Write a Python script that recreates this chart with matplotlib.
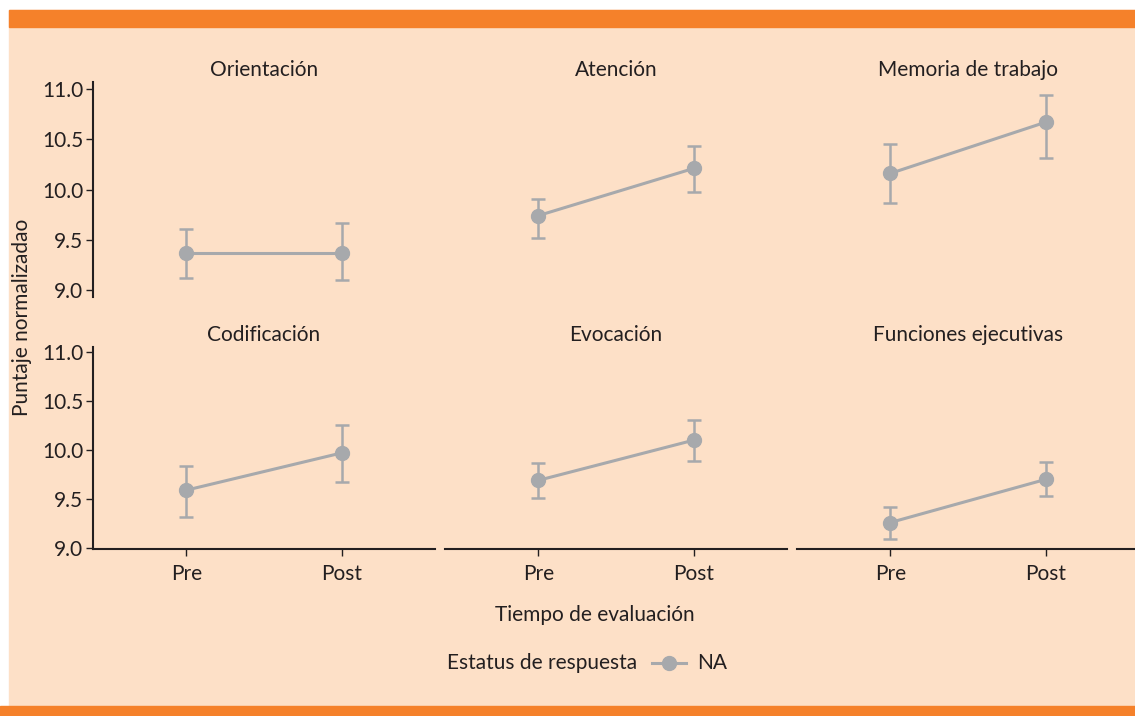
import matplotlib.pyplot as plt
from matplotlib.lines import Line2D
from matplotlib.patches import Rectangle

plt.rcParams["font.family"] = ["Lato", "DejaVu Sans"]

GRAY = "#A7A9AC"
TEXT = "#231F20"
PEACH = "#FDE0C7"
ORANGE = "#F5812A"
FS = 15

times = ["Pre", "Post"]
domains = ["Orientación", "Atención", "Memoria de trabajo",
           "Codificación", "Evocación", "Funciones ejecutivas"]
means = [[9.37, 9.37], [9.74, 10.21], [10.16, 10.67],
         [9.59, 9.97], [9.69, 10.10], [9.26, 9.70]]
lower = [[9.12, 9.10], [9.52, 9.98], [9.87, 10.31],
         [9.32, 9.67], [9.51, 9.89], [9.09, 9.53]]
upper = [[9.61, 9.67], [9.91, 10.43], [10.45, 10.94],
         [9.84, 10.25], [9.87, 10.31], [9.42, 9.88]]
yticks = [9.0, 9.5, 10.0, 10.5, 11.0]

fig = plt.figure(figsize=(11.35, 7.16), dpi=100)
# marco: fondo durazno y franjas naranjas
fig.patches.append(Rectangle((9 / 1135, 10 / 716), 1, 1 - 20 / 716,
                             transform=fig.transFigure, color=PEACH, zorder=-10))
fig.patches.append(Rectangle((9 / 1135, 1 - 27 / 716), 1, 17 / 716,
                             transform=fig.transFigure, color=ORANGE, zorder=-9))
fig.patches.append(Rectangle((0, 0), 1, 10 / 716,
                             transform=fig.transFigure, color=ORANGE, zorder=-9))

lefts = [93, 445, 797]
width = 342
rows = [(82, 297, (8.93, 11.07)), (347, 549, (8.99, 11.05))]

for i, name in enumerate(domains):
    r, c = divmod(i, 3)
    top, bot, ylim = rows[r]
    ax = fig.add_axes([lefts[c] / 1135, 1 - bot / 716, width / 1135, (bot - top) / 716])
    ax.set_facecolor("none")
    x = [1, 2]
    yerr = [[m - lo for m, lo in zip(means[i], lower[i])],
            [hi - m for m, hi in zip(means[i], upper[i])]]
    ax.errorbar(x, means[i], yerr=yerr, fmt="none", ecolor=GRAY,
                elinewidth=1.8, capsize=5, capthick=1.8, zorder=2)
    ax.plot(x, means[i], color=GRAY, lw=2.2, marker="o", ms=10, zorder=3)
    ax.set_xlim(0.4, 2.6)
    ax.set_ylim(*ylim)
    for s in ["top", "right"]:
        ax.spines[s].set_visible(False)
    ax.spines["left"].set_color(TEXT)
    ax.spines["bottom"].set_color(TEXT)
    ax.spines["left"].set_linewidth(1.5)
    ax.spines["bottom"].set_linewidth(1.5)
    ax.tick_params(colors=TEXT, labelsize=FS, length=5, width=1, labelcolor=TEXT)
    if c == 0:
        ax.set_yticks(yticks)
        ax.set_yticklabels([f"{v:.1f}" for v in yticks])
        ax.tick_params(axis="y", pad=2)
    else:
        ax.spines["left"].set_visible(False)
        ax.set_yticks([])
    if r == 1:
        ax.set_xticks(x)
        ax.set_xticklabels(times)
        ax.tick_params(axis="x", pad=6)
    else:
        ax.spines["bottom"].set_visible(False)
        ax.set_xticks([])
    fig.text((lefts[c] + width / 2) / 1135, 1 - (top - 12) / 716, name,
             ha="center", va="center", fontsize=FS, color=TEXT)

fig.text(22 / 1135, 1 - 317 / 716, "Puntaje normalizadao", rotation=90,
         ha="center", va="center", fontsize=FS, color=TEXT)
fig.text(595 / 1135, 1 - 615 / 716, "Tiempo de evaluación",
         ha="center", va="center", fontsize=FS, color=TEXT)
fig.text(637 / 1135, 1 - 663 / 716, "Estatus de respuesta",
         ha="right", va="center", fontsize=FS, color=TEXT)
fig.lines.append(Line2D([652 / 1135, 686 / 1135], [1 - 663 / 716] * 2,
                        transform=fig.transFigure, color=GRAY, lw=2.2))
fig.lines.append(Line2D([669 / 1135], [1 - 663 / 716], transform=fig.transFigure,
                        color=GRAY, marker="o", ms=10))
fig.text(697 / 1135, 1 - 663 / 716, "NA", ha="left", va="center",
         fontsize=FS, color=TEXT)

fig.savefig("out.png", dpi=100)
